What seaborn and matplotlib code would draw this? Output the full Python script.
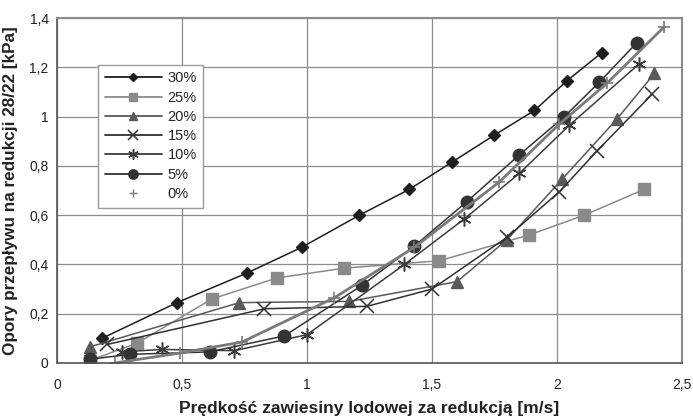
import matplotlib
matplotlib.use("Agg")
import matplotlib.pyplot as plt
import seaborn as sns
from matplotlib.lines import Line2D
from matplotlib.ticker import FuncFormatter

# values
x30 = [0.18, 0.48, 0.76, 0.98, 1.21, 1.41, 1.58, 1.75, 1.91, 2.04, 2.18]
y30 = [0.10, 0.245, 0.365, 0.47, 0.60, 0.705, 0.815, 0.925, 1.025, 1.145, 1.26]

x25 = [0.13, 0.32, 0.62, 0.88, 1.15, 1.53, 1.89, 2.11, 2.35]
y25 = [0.01, 0.08, 0.26, 0.345, 0.385, 0.415, 0.52, 0.60, 0.705]

x20 = [0.13, 0.73, 1.17, 1.60, 1.80, 2.02, 2.24, 2.39]
y20 = [0.065, 0.245, 0.25, 0.33, 0.50, 0.745, 0.99, 1.175]

x15 = [0.20, 0.83, 1.24, 1.50, 1.80, 2.01, 2.16, 2.38]
y15 = [0.075, 0.22, 0.23, 0.30, 0.51, 0.695, 0.86, 1.09]

x10 = [0.26, 0.42, 0.71, 1.00, 1.39, 1.63, 1.85, 2.05, 2.33]
y10 = [0.045, 0.055, 0.05, 0.115, 0.40, 0.585, 0.77, 0.965, 1.215]

x5 = [0.13, 0.29, 0.61, 0.91, 1.22, 1.43, 1.64, 1.85, 2.03, 2.17, 2.32]
y5 = [0.015, 0.035, 0.045, 0.11, 0.315, 0.475, 0.655, 0.845, 1.0, 1.14, 1.30]

x0 = [0.23, 0.49, 0.74, 1.11, 1.43, 1.77, 2.01, 2.20, 2.43]
y0 = [0.0, 0.04, 0.085, 0.265, 0.47, 0.735, 0.97, 1.135, 1.365]

labels = ["30%", "25%", "20%", "15%", "10%", "5%", "0%"]

sns.set_style("white")
plt.rcParams['font.family'] = ['Liberation Sans', 'DejaVu Sans']

fig = plt.figure(figsize=(6.93, 4.19), dpi=100)
ax = fig.add_axes([0.0823, 0.1337, 0.9017, 0.8233])

# series styles: (x, y, color, marker, markersize, linewidth, markeredgewidth)
series = [
    (x30, y30, "#1e1e1e", "D", 6, 1.1, 1.0),
    (x25, y25, "#8a8a8a", "s", 8, 1.1, 1.0),
    (x20, y20, "#5a5a5a", "^", 8, 1.1, 1.0),
    (x15, y15, "#303030", "x", 10, 1.1, 1.1),
    (x10, y10, "#3c3c3c", (6, 2, 0), 10, 1.1, 1.1),
    (x5, y5, "#333333", "o", 9, 1.1, 1.0),
    (x0, y0, "#7a7a7a", "+", 9, 2.0, 1.2),
]

for (xs, ys, col, mk, ms, lw, mew), lab in zip(series, labels):
    sns.lineplot(x=xs, y=ys, ax=ax, color=col, marker=mk, markersize=ms,
                 linewidth=lw, markeredgewidth=mew, markeredgecolor=col,
                 sort=False, estimator=None, legend=False)

ax.set_xlim(0, 2.5)
ax.set_ylim(0, 1.4)
ax.set_xticks([0, 0.5, 1, 1.5, 2, 2.5])
ax.set_yticks([0, 0.2, 0.4, 0.6, 0.8, 1.0, 1.2, 1.4])
fmt = FuncFormatter(lambda v, p: ("%g" % round(v, 2)).replace(".", ","))
ax.xaxis.set_major_formatter(fmt)
ax.yaxis.set_major_formatter(fmt)
ax.grid(True, color="#8c8c8c", linewidth=0.9)
for side in ["top", "right"]:
    ax.spines[side].set_color("#8c8c8c")
    ax.spines[side].set_linewidth(1.5)
for side in ["left", "bottom"]:
    ax.spines[side].set_color("#555555")
    ax.spines[side].set_linewidth(1.2)
ax.tick_params(axis="both", which="major", direction="out", length=4,
               width=0.9, color="#555555", labelsize=10, labelcolor="#222222")
ax.tick_params(axis="x", pad=7)
ax.tick_params(axis="y", pad=2)

ax.set_xlabel("Prędkość zawiesiny lodowej za redukcją [m/s]", fontsize=12.5,
              fontweight="bold", color="#222222", labelpad=6)
ax.set_ylabel("Opory przepływu na redukcji 28/22 [kPa]", fontsize=12.3,
              fontweight="bold", color="#222222", labelpad=8)

handles = []
for (xs, ys, col, mk, ms, lw, mew), lab in zip(series, labels):
    if lab == "0%":
        handles.append(Line2D([], [], color=col, marker=mk, markersize=6,
                              linestyle="none", markeredgewidth=1.0, label=lab))
    else:
        handles.append(Line2D([], [], color=col, marker=mk, markersize=ms * 0.75,
                              linewidth=1.3, markeredgewidth=mew,
                              markeredgecolor=col, label=lab))
leg = ax.legend(handles=handles, loc="upper left", bbox_to_anchor=(0.066, 0.864),
                frameon=True, fancybox=False, edgecolor="#9a9a9a", framealpha=1,
                fontsize=10.5, handlelength=3.9, labelspacing=0.36,
                borderpad=0.45, handletextpad=0.4, borderaxespad=0)
leg.get_frame().set_linewidth(1.0)
leg.set_zorder(5)

fig.savefig("out.png", dpi=100)
